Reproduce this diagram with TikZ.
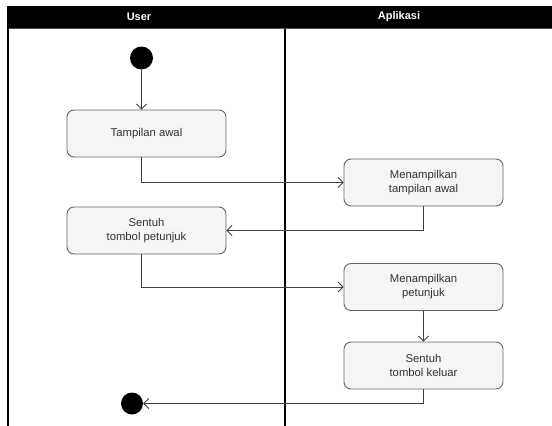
\documentclass[tikz,border=0pt]{standalone}
\usepackage{fontspec}
\setmainfont{Liberation Sans}
\usetikzlibrary{arrows.meta,calc}
\definecolor{boxfill}{HTML}{F5F5F5}
\definecolor{boxline}{HTML}{666666}
\definecolor{txt}{HTML}{333333}
\definecolor{wire}{HTML}{404040}
\begin{document}
\begin{tikzpicture}[x=1pt,y=-1pt,
  action/.style={draw=boxline,fill=boxfill,rounded corners=7pt,line width=0.9pt,
    minimum width=159pt,minimum height=47pt,inner sep=0pt,align=center,
    text=txt,font=\fontsize{11.3}{14}\selectfont},
  dot/.style={circle,fill=black,minimum size=23pt,inner sep=0pt},
  lane/.style={line width=1.2pt,black},
  head/.style={text=white,font=\fontsize{11}{13}\selectfont\bfseries},
  flow/.style={draw=wire,line width=0.9pt,-{Straight Barb[length=5pt,width=10pt,line width=0.9pt]}}]
\useasboundingbox (0,0) rectangle (552,426);
\fill[white] (0,0) rectangle (552,426);

% swimlane header and borders
\fill[black] (8,6) rectangle (552,28);
\draw[line width=1pt,black!70] (8,28.5) -- (552,28.5);
\draw[lane] (8,6) -- (8,426);
\draw[lane] (285,28.5) -- (285,426);
\node[head] (huser) at (139,17) {User};
\node[head] (happ) at (399,17) {Aplikasi};

% activity nodes
\node[dot] (start) at (141.5,58) {};
\node[action] (ta)  at (146.5,133.5) {Tampilan awal};
\node[action] (mta) at (423.5,182.5) {Menampilkan\\tampilan awal};
\node[action] (stp) at (146.5,230.5) {Sentuh\\tombol petunjuk};
\node[action] (mp)  at (423.5,287)   {Menampilkan\\petunjuk};
\node[action] (stk) at (423.5,365.5) {Sentuh\\tombol keluar};
\node[dot,minimum size=22pt] (end) at (132,403.5) {};

% control flow
\draw[flow] (start) -- (start |- ta.north);
\draw[flow] (start |- ta.south) |- (mta.west);
\draw[flow] (mta.south) |- (stp.east);
\draw[flow] (start |- stp.south) |- (mp.west);
\draw[flow] (mp.south) -- (stk.north);
\draw[flow] (stk.south) |- (end.east);
\end{tikzpicture}
\end{document}
